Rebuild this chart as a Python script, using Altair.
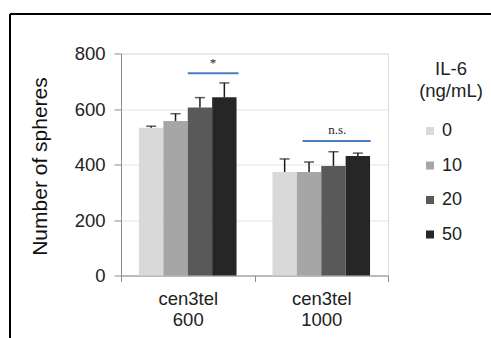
import altair as alt
import pandas as pd

# Sphere counts per cell line and IL-6 dose (mean and upper SD)
groups = ["cen3tel|600", "cen3tel|1000"]
doses = ["0", "10", "20", "50"]
means_600 = [532, 557, 605, 642]
errs_600 = [6, 26, 36, 52]
means_1000 = [373, 373, 395, 431]
errs_1000 = [47, 36, 51, 10]
dose_colors = ["#d9d9d9", "#a6a6a6", "#595959", "#262626"]

# Significance brackets (x in group units, 0..2) and their labels
sig_x1 = [0.50, 1.36]
sig_x2 = [0.88, 1.87]
sig_y = [729, 485]
sig_text = ["*", "n.s."]
sig_text_x = [0.69, 1.62]
sig_text_y = [765, 524]

rows = []
for g, means, errs in [(groups[0], means_600, errs_600), (groups[1], means_1000, errs_1000)]:
    for d, m, e in zip(doses, means, errs):
        rows.append({"group": g, "dose": d, "mean": m, "upper": m + e})
df = pd.DataFrame(rows)

sig = pd.DataFrame({"x1": sig_x1, "x2": sig_x2, "mean": sig_y})
sig_lbl = pd.DataFrame({"tx": sig_text_x, "mean": sig_text_y, "t": sig_text})

W, H = 267, 222
FONT = "Liberation Sans"

x_enc = alt.X(
    "group:N",
    sort=groups,
    scale=alt.Scale(paddingInner=0, paddingOuter=0),
    axis=alt.Axis(
        title=None,
        labelExpr="datum.value ? split(datum.value, '|') : ''",
        labelAngle=0,
        labelFontSize=18.5,
        labelFont=FONT,
        labelColor="#222222",
        labelLineHeight=21,
        labelPadding=8,
        tickBand="extent",
        tickSize=6,
        tickColor="#8c8c8c",
        domainColor="#8c8c8c",
        grid=False,
    ),
)
xoff = alt.XOffset("dose:N", sort=doses, scale=alt.Scale(paddingInner=0, paddingOuter=0.736))
y_scale = alt.Scale(domain=[0, 800])

bars = alt.Chart(df).mark_bar(stroke=None).encode(
    x=x_enc,
    xOffset=xoff,
    y=alt.Y(
        "mean:Q",
        scale=y_scale,
        axis=alt.Axis(
            values=[0, 200, 400, 600, 800],
            title="Number of spheres",
            titleFont=FONT,
            titleFontSize=21,
            titleFontWeight="normal",
            titleColor="#111111",
            titleAngle=270,
            titleX=-81,
            titleY=112.5,
            titleAlign="center",
            titleBaseline="middle",
            labelFontSize=18.5,
            labelFont=FONT,
            labelColor="#222222",
            labelPadding=9,
            tickSize=7,
            tickColor="#8c8c8c",
            domainColor="#8c8c8c",
            gridColor="#e3e3e3",
        ),
    ),
    color=alt.Color(
        "dose:N",
        sort=doses,
        scale=alt.Scale(domain=doses, range=dose_colors),
        legend=alt.Legend(
            title=["IL-6", "(ng/mL)"],
            titleFont=FONT,
            titleFontSize=18.5,
            titleFontWeight="normal",
            titleColor="#222222",
            titleLineHeight=22,
            titleAlign="center",
            titleAnchor="start",
            titlePadding=22,
            labelFont=FONT,
            labelFontSize=18,
            labelColor="#222222",
            labelOffset=3,
            symbolType="square",
            symbolSize=64,
            symbolStrokeWidth=0,
            symbolOffset=-30,
            rowPadding=16.5,
            orient="none",
            legendX=298,
            legendY=6,
        ),
    ),
)

err_line = alt.Chart(df).mark_rule(color="#1a1a1a", strokeWidth=1.5).encode(
    x=alt.X("group:N", sort=groups),
    xOffset=xoff,
    y=alt.Y("mean:Q", scale=y_scale),
    y2="upper:Q",
)
err_cap = alt.Chart(df).mark_tick(color="#1a1a1a", thickness=1.5, size=10, orient="horizontal").encode(
    x=alt.X("group:N", sort=groups),
    xOffset=xoff,
    y=alt.Y("upper:Q", scale=y_scale),
)

sig_x_scale = alt.Scale(domain=[0, 2], nice=False, zero=False)
sig_lines = alt.Chart(sig).mark_rule(color="#4a7ebf", strokeWidth=2).encode(
    x=alt.X("x1:Q", scale=sig_x_scale, axis=None),
    x2="x2:Q",
    y=alt.Y("mean:Q", scale=y_scale),
)
sig_labels = alt.Chart(sig_lbl).mark_text(
    font="Liberation Serif", fontSize=13, color="#222222", baseline="middle"
).encode(
    x=alt.X("tx:Q", scale=sig_x_scale, axis=None),
    y=alt.Y("mean:Q", scale=y_scale),
    text="t:N",
)

# outer frame lines
frame_left = alt.Chart(df).mark_rule(color="#000000", strokeWidth=1.5).encode(
    x=alt.value(-111), y=alt.value(-39.5), y2=alt.value(300)
)
frame_top = alt.Chart(df).mark_rule(color="#000000", strokeWidth=1.5).encode(
    x=alt.value(-111), x2=alt.value(380), y=alt.value(-39.5)
)

main = alt.layer(bars, err_line, err_cap)
annot = alt.layer(sig_lines, sig_labels)

chart = (
    alt.layer(main, annot, frame_left, frame_top)
    .resolve_scale(x="independent")
    .properties(
        width=W,
        height=H,
        autosize=alt.AutoSizeParams(type="none"),
        padding={"left": 121, "top": 53.5, "right": 103, "bottom": 62.5},
    )
    .configure_view(stroke=None)
    .configure(background="white")
)

chart.save("out.html", embed_options={"renderer": "svg", "actions": False})
